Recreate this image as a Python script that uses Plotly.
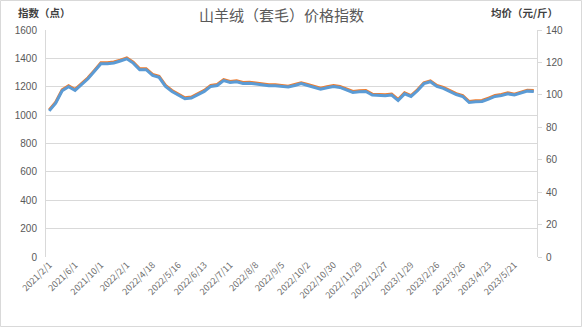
import plotly.graph_objects as go

dates = [
    "2021/2/1", "2021/3/1", "2021/4/1", "2021/5/1", "2021/6/1", "2021/7/1", "2021/8/1", "2021/9/1",
    "2021/10/1", "2021/11/1", "2021/12/1", "2022/1/1", "2022/2/1", "2022/3/1", "2022/3/28", "2022/4/11",
    "2022/4/18", "2022/4/25", "2022/5/2", "2022/5/9", "2022/5/16", "2022/5/23", "2022/5/30", "2022/6/6",
    "2022/6/13", "2022/6/20", "2022/6/27", "2022/7/4", "2022/7/11", "2022/7/18", "2022/7/25", "2022/8/1",
    "2022/8/8", "2022/8/15", "2022/8/22", "2022/8/29", "2022/9/5", "2022/9/12", "2022/9/19", "2022/9/26",
    "2022/10/2", "2022/10/9", "2022/10/16", "2022/10/23", "2022/10/30", "2022/11/6", "2022/11/13", "2022/11/20",
    "2022/11/29", "2022/12/5", "2022/12/12", "2022/12/19", "2022/12/27", "2023/1/3", "2023/1/9", "2023/1/16",
    "2023/1/29", "2023/2/5", "2023/2/12", "2023/2/19", "2023/2/26", "2023/3/5", "2023/3/12", "2023/3/19",
    "2023/3/26", "2023/4/2", "2023/4/9", "2023/4/16", "2023/4/23", "2023/4/30", "2023/5/7", "2023/5/14",
    "2023/5/21", "2023/5/28", "2023/6/4", "2023/6/11",
]

index_pts = [
    1037, 1091, 1178, 1207, 1181, 1221, 1263, 1315, 1369, 1369, 1375, 1388, 1403, 1374, 1327, 1327,
    1287, 1273, 1209, 1174, 1150, 1122, 1127, 1150, 1174, 1209, 1216, 1250, 1237, 1242, 1230, 1232,
    1225, 1223, 1214, 1214, 1209, 1204, 1216, 1228, 1216, 1204, 1190, 1200, 1209, 1202, 1185, 1167,
    1171, 1174, 1148, 1145, 1143, 1148, 1110, 1157, 1138, 1178, 1228, 1242, 1209, 1195, 1174, 1152,
    1138, 1096, 1101, 1103, 1120, 1138, 1145, 1157, 1148, 1162, 1176, 1174,
]

avg_price = [
    90.1, 94.9, 102.5, 105.0, 102.7, 106.2, 109.9, 114.5, 119.2, 119.2, 119.7, 120.9, 122.2, 119.6, 115.5, 115.5,
    112.0, 110.8, 105.2, 102.1, 100.0, 97.6, 98.0, 100.0, 102.1, 105.2, 105.8, 108.8, 107.6, 108.1, 107.0, 107.2,
    106.6, 106.4, 105.6, 105.6, 105.2, 104.8, 105.8, 106.9, 105.8, 104.8, 103.5, 104.4, 105.2, 104.6, 103.1, 101.5,
    101.9, 102.1, 99.9, 99.6, 99.4, 99.9, 96.5, 100.6, 99.0, 102.5, 106.9, 108.1, 105.2, 104.0, 102.1, 100.2,
    99.0, 95.3, 95.7, 95.9, 97.4, 99.0, 99.6, 100.6, 99.9, 101.1, 102.3, 102.1,
]

tick_labels = [
    "2021/2/1", "2021/6/1", "2021/10/1", "2022/2/1", "2022/4/18", "2022/5/16", "2022/6/13",
    "2022/7/11", "2022/8/8", "2022/9/5", "2022/10/2", "2022/10/30", "2022/11/29", "2022/12/27",
    "2023/1/29", "2023/2/26", "2023/3/26", "2023/4/23", "2023/5/21",
]

left_ticks = [0, 200, 400, 600, 800, 1000, 1200, 1400, 1600]
right_ticks = [0, 20, 40, 60, 80, 100, 120, 140]

W, H = 582, 327
ML, MR, MT, MB = 46, 45, 30, 70
PW, PH = W - ML - MR, H - MT - MB

FONT = "Noto Sans CJK SC"
TICK_COLOR = "#595959"
XTICK_COLOR = "#6E6E6E"

fig = go.Figure()
fig.add_trace(go.Scatter(
    x=dates, y=index_pts, name="指数", mode="lines",
    line=dict(color="#ED7D31", width=3), yaxis="y",
))
fig.add_trace(go.Scatter(
    x=dates, y=avg_price, name="均价", mode="lines",
    line=dict(color="#5B9BD5", width=3), yaxis="y2",
))

fig.update_layout(
    width=W, height=H,
    margin=dict(l=ML, r=MR, t=MT, b=MB),
    paper_bgcolor="white", plot_bgcolor="white",
    showlegend=False,
    font=dict(family=FONT, color=TICK_COLOR, size=10),
    xaxis=dict(
        type="category", categoryorder="array", categoryarray=dates,
        range=[-0.5, len(dates) - 0.5],
        tickmode="array", tickvals=tick_labels, ticktext=tick_labels,
        tickangle=-45, tickfont=dict(size=9, color=XTICK_COLOR, family=FONT),
        showgrid=False, showline=False, zeroline=False, ticks="",
    ),
    yaxis=dict(
        range=[0, 1600], tickmode="array", tickvals=left_ticks,
        showgrid=True, gridcolor="#D9D9D9", gridwidth=1,
        showline=True, linecolor="#D9D9D9", linewidth=1,
        zeroline=False, ticks="", ticklabelstandoff=6,
        tickfont=dict(size=10, color=TICK_COLOR, family="Liberation Sans"),
    ),
    yaxis2=dict(
        range=[0, 140], tickmode="array", tickvals=right_ticks,
        overlaying="y", side="right", showgrid=False,
        showline=True, linecolor="#D9D9D9", linewidth=1,
        zeroline=False, ticks="outside", ticklen=4, tickcolor="#D9D9D9",
        ticklabelstandoff=2,
        tickfont=dict(size=10, color=TICK_COLOR, family="Liberation Sans"),
    ),
)

def px_x(v):
    return (v - ML) / PW

def px_y(v):
    return (H - MB - v) / PH

fig.add_annotation(
    text="山羊绒（套毛）价格指数", xref="paper", yref="paper",
    x=px_x(281), y=px_y(15), xanchor="center", yanchor="middle",
    showarrow=False, font=dict(size=15, color="#595959", family=FONT),
)
fig.add_annotation(
    text="<b>指数（点）</b>", xref="paper", yref="paper",
    x=px_x(16), y=px_y(12), xanchor="left", yanchor="middle",
    showarrow=False, font=dict(size=10.5, color="#404040", family=FONT),
)
fig.add_annotation(
    text="<b>均价（元/斤）</b>", xref="paper", yref="paper",
    x=px_x(489), y=px_y(12), xanchor="left", yanchor="middle",
    showarrow=False, font=dict(size=10.5, color="#404040", family=FONT),
)

fig.add_shape(
    type="rect", xref="paper", yref="paper",
    x0=px_x(0.5), x1=px_x(W - 0.5), y0=px_y(H - 0.5), y1=px_y(0.5),
    line=dict(color="#D9D9D9", width=1), fillcolor="rgba(0,0,0,0)", layer="below",
)

fig.write_html("out.html")
